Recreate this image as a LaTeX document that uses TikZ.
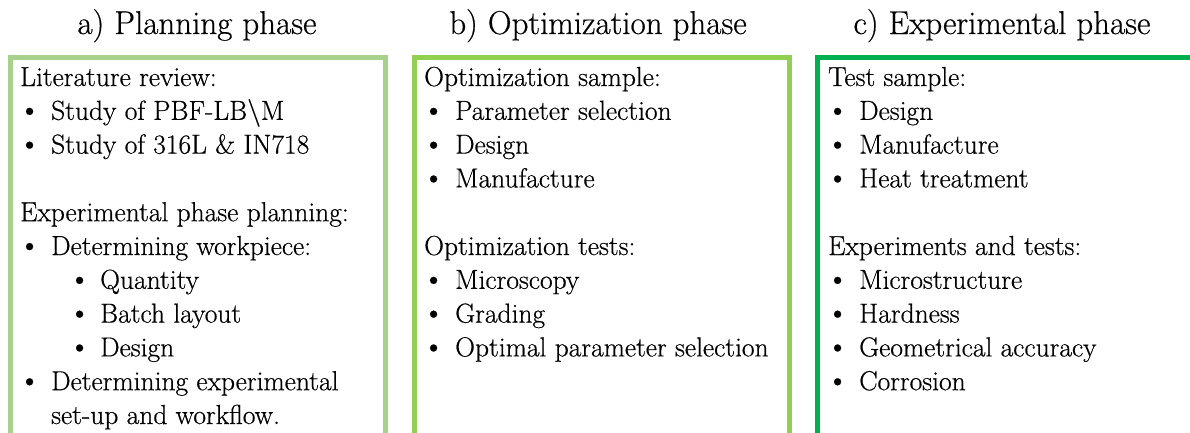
\documentclass[tikz,border=0pt]{standalone}
\usepackage{fontspec}
\setmainfont{Latin Modern Roman}[FakeBold=0.5]
\definecolor{planGreen}{HTML}{A9D18E}
\definecolor{optGreen}{HTML}{92D050}
\definecolor{expGreen}{HTML}{00B050}
\newcommand{\bulglyph}{\hspace*{-2pt}\scalebox{1.15}{\textbullet}}
\newcommand{\bul}{\makebox[31pt][l]{\bulglyph}}
\newcommand{\subbul}{\hspace*{50pt}\makebox[30pt][l]{\bulglyph}}
\begin{document}
\begin{tikzpicture}[x=1pt,y=-1pt,
  phasetitle/.style={anchor=base,inner sep=0pt,font=\fontsize{33}{40}\selectfont},
  line/.style={anchor=base west,inner sep=0pt,font=\fontsize{27.5}{33}\selectfont},
  phasebox/.style={line width=5pt}]
\clip (0,0) rectangle (1190,432);
\fill[white] (0,0) rectangle (1190,432);

% frames (open at the bottom edge of the page)
\draw[phasebox,planGreen] (10.5,57.5) rectangle (385.5,470);
\draw[phasebox,optGreen] (414,57.5) rectangle (789.5,470);
\draw[phasebox,expGreen] (817.5,57.5) rectangle (1220,470);

% titles
\node[phasetitle] (ta) at (197,34) {a) Planning phase};
\node[phasetitle] (tb) at (598,34) {b) Optimization phase};
\node[phasetitle] (tc) at (1002,34) {c) Experimental phase};

% a) planning phase
\node[line] (a1)  at (20,86)    {Literature review:};
\node[line] (a2)  at (20,119.8) {\bul Study of PBF-LB\textbackslash M};
\node[line] (a3)  at (20,153.6) {\bul Study of 316L \& IN718};
\node[line] (a4)  at (20,221.2) {Experimental phase planning:};
\node[line] (a5)  at (20,255)   {\bul Determining workpiece:};
\node[line] (a6)  at (20,288.8) {\subbul Quantity};
\node[line] (a7)  at (20,322.6) {\subbul Batch layout};
\node[line] (a8)  at (20,356.4) {\subbul Design};
\node[line] (a9)  at (20,390.2) {\bul Determining experimental};
\node[line] (a10) at (20,424)   {\hspace*{31pt}set-up and workflow.};

% b) optimization phase
\node[line] (b1) at (424,86)    {Optimization sample:};
\node[line] (b2) at (424,119.8) {\bul Parameter selection};
\node[line] (b3) at (424,153.6) {\bul Design};
\node[line] (b4) at (424,187.4) {\bul Manufacture};
\node[line] (b5) at (424,255)   {Optimization tests:};
\node[line] (b6) at (424,288.8) {\bul Microscopy};
\node[line] (b7) at (424,322.6) {\bul Grading};
\node[line] (b8) at (424,356.4) {\bul Optimal parameter selection};

% c) experimental phase
\node[line] (c1) at (828,86)    {Test sample:};
\node[line] (c2) at (828,119.8) {\bul Design};
\node[line] (c3) at (828,153.6) {\bul Manufacture};
\node[line] (c4) at (828,187.4) {\bul Heat treatment};
\node[line] (c5) at (828,255)   {Experiments and tests:};
\node[line] (c6) at (828,288.8) {\bul Microstructure};
\node[line] (c7) at (828,322.6) {\bul Hardness};
\node[line] (c8) at (828,356.4) {\bul Geometrical accuracy};
\node[line] (c9) at (828,390.2) {\bul Corrosion};
\end{tikzpicture}
\end{document}
